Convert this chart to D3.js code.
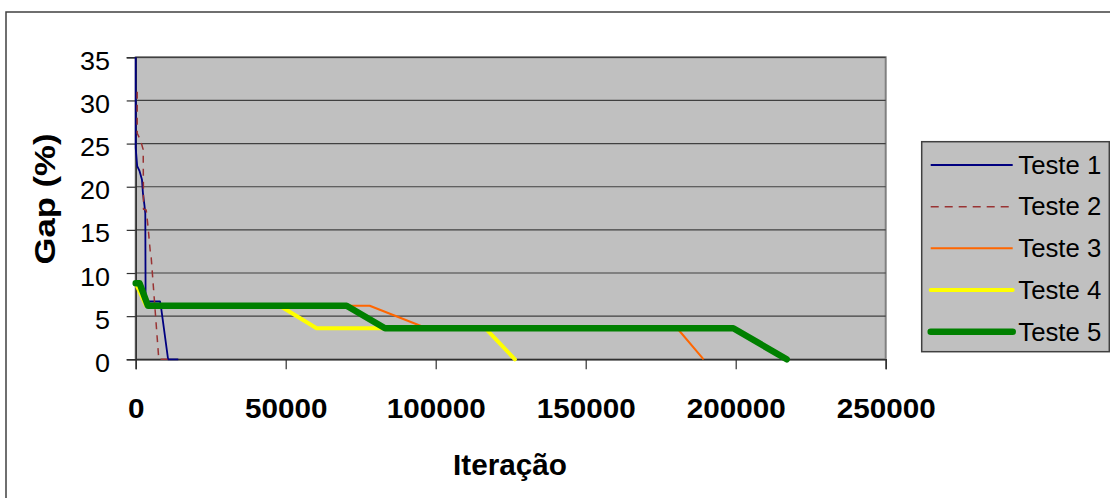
<!DOCTYPE html>
<html>
<head>
<meta charset="utf-8">
<script src="https://cdn.jsdelivr.net/npm/d3@7"></script>
<style>
  html, body { margin: 0; padding: 0; background: #fff; }
  svg { display: block; font-family: Arial, "Liberation Sans", sans-serif; }
</style>
</head>
<body>
<svg id="chart" width="1110" height="498"></svg>
<script>
// Series names (legend order)
const seriesNames = ["Teste 1", "Teste 2", "Teste 3", "Teste 4", "Teste 5"];

// Iteration / gap (%) pairs for each test run
const iter1 = [0, 0, 500, 1300, 2100, 2400, 2900, 3200, 3300, 8100, 8500, 10800, 14200];
const gap1  = [35, 24.5, 22.4, 21.8, 20.8, 19.3, 17.9, 16.9, 6.7, 6.7, 5.9, 0, 0];

const iter2 = [500, 500, 1600, 2500, 2600, 3500, 4100, 4900, 5100, 7700, 10800];
const gap2  = [31, 26.2, 25.4, 24.3, 17.4, 17.3, 15.4, 12.3, 12.1, 0, 0];

const iter3 = [0, 1300, 4100, 78000, 97000, 180500, 189300];
const gap3  = [8.8, 8.8, 6.2, 6.2, 3.6, 3.6, 0];

const iter4 = [0, 3500, 48000, 60300, 116500, 126400];
const gap4  = [8.8, 6.2, 6.2, 3.6, 3.6, 0];

const iter5 = [0, 1300, 4100, 70300, 83100, 199200, 217000];
const gap5  = [8.8, 8.8, 6.2, 6.2, 3.6, 3.6, 0];

// Axis ticks
const xTicks = [0, 50000, 100000, 150000, 200000, 250000];
const yTicks = [0, 5, 10, 15, 20, 25, 30, 35];

const iters = [iter1, iter2, iter3, iter4, iter5];
const gaps  = [gap1, gap2, gap3, gap4, gap5];

// Line styles per series
const styles = [
  { color: "#000080", width: 1.8, dash: null },
  { color: "#993333", width: 1.5, dash: "7,6" },
  { color: "#FF6600", width: 2,   dash: null },
  { color: "#FFFF00", width: 4,   dash: null },
  { color: "#008000", width: 6.5, dash: null }
];

const svg = d3.select("#chart");

// Plot frame
const plot = { left: 135.7, right: 885.7, top: 57.3, bottom: 359.3 };

const x = d3.scaleLinear().domain([0, 250000]).range([plot.left, plot.right]);
const y = d3.scaleLinear().domain([0, 35]).range([plot.bottom, plot.top]);

// Chart area outline
svg.append("rect")
  .attr("x", 6).attr("y", 12)
  .attr("width", 1200).attr("height", 600)
  .attr("fill", "#fff")
  .attr("stroke", "#404040").attr("stroke-width", 1.5);

// Plot background
svg.append("rect")
  .attr("x", plot.left).attr("y", plot.top)
  .attr("width", plot.right - plot.left)
  .attr("height", plot.bottom - plot.top)
  .attr("fill", "#c0c0c0")
  .attr("stroke", "#808080").attr("stroke-width", 2);

// Horizontal gridlines
svg.append("g")
  .selectAll("line")
  .data(yTicks.filter(d => d > 0))
  .join("line")
  .attr("x1", plot.left).attr("x2", plot.right)
  .attr("y1", d => y(d)).attr("y2", d => y(d))
  .attr("stroke", "#404040").attr("stroke-width", 1.2);

// Y axis
const yAxis = svg.append("g")
  .attr("transform", `translate(${plot.left},0)`)
  .call(d3.axisLeft(y).tickValues(yTicks).tickSize(9).tickPadding(0).tickFormat(d3.format("d")));
yAxis.select(".domain").attr("stroke", "#303030").attr("stroke-width", 1.5);
yAxis.selectAll(".tick line").attr("stroke", "#303030").attr("stroke-width", 1.2);
yAxis.selectAll(".tick text")
  .attr("x", 110 - plot.left)
  .attr("dy", null)
  .attr("y", 12)
  .attr("fill", "#000")
  .attr("font-size", 25)
  .attr("font-family", "Arial, 'Liberation Sans', sans-serif")
  .attr("text-anchor", "end")
  .attr("textLength", d => String(d).length * 15)
  .attr("lengthAdjust", "spacingAndGlyphs");

// X axis
const xAxis = svg.append("g")
  .attr("transform", `translate(0,${plot.bottom})`)
  .call(d3.axisBottom(x).tickValues(xTicks).tickSize(10).tickPadding(0).tickFormat(d3.format("d")));
xAxis.select(".domain").attr("stroke", "#303030").attr("stroke-width", 1.5);
xAxis.selectAll(".tick line").attr("stroke", "#303030").attr("stroke-width", 1.2);
xAxis.selectAll(".tick text")
  .attr("dy", null)
  .attr("y", 418.5 - plot.bottom)
  .attr("fill", "#000")
  .attr("font-size", 28)
  .attr("font-weight", "bold")
  .attr("font-family", "Arial, 'Liberation Sans', sans-serif")
  .attr("textLength", d => String(d).length * 16.5)
  .attr("lengthAdjust", "spacingAndGlyphs");

// Axis titles
svg.append("text")
  .attr("x", 510).attr("y", 475)
  .attr("text-anchor", "middle")
  .attr("font-size", 29).attr("font-weight", "bold")
  .attr("textLength", 114).attr("lengthAdjust", "spacingAndGlyphs")
  .text("Iteração");

svg.append("text")
  .attr("transform", "translate(55,199) rotate(-90)")
  .attr("text-anchor", "middle")
  .attr("font-size", 30).attr("font-weight", "bold")
  .attr("textLength", 131).attr("lengthAdjust", "spacingAndGlyphs")
  .text("Gap (%)");

// Series lines
const line = d3.line().x(d => x(d[0])).y(d => y(d[1]));
const lineData = iters.map((it, i) => it.map((v, j) => [v, gaps[i][j]]));

svg.append("g")
  .selectAll("path")
  .data(lineData)
  .join("path")
  .attr("d", line)
  .attr("fill", "none")
  .attr("stroke", (d, i) => styles[i].color)
  .attr("stroke-width", (d, i) => styles[i].width)
  .attr("stroke-dasharray", (d, i) => styles[i].dash)
  .attr("stroke-linejoin", "round")
  .attr("stroke-linecap", (d, i) => styles[i].width > 3 ? "round" : "butt");

// Legend
const legend = { left: 921.7, top: 141.7, right: 1109.3, bottom: 351.7 };
svg.append("rect")
  .attr("x", legend.left).attr("y", legend.top)
  .attr("width", legend.right - legend.left)
  .attr("height", legend.bottom - legend.top)
  .attr("fill", "#c0c0c0")
  .attr("stroke", "#404040").attr("stroke-width", 1.5);

const rowY = d3.scalePoint().domain(seriesNames).range([165, 331.7]);
const items = svg.append("g")
  .selectAll("g")
  .data(seriesNames)
  .join("g")
  .attr("transform", d => `translate(0,${rowY(d)})`);

items.append("line")
  .attr("x1", 930.7).attr("x2", 1012.7)
  .attr("y1", 0).attr("y2", 0)
  .attr("stroke", (d, i) => styles[i].color)
  .attr("stroke-width", (d, i) => styles[i].width)
  .attr("stroke-dasharray", (d, i) => styles[i].dash ? "8,6" : null)
  .attr("stroke-linecap", (d, i) => styles[i].width > 3 ? "round" : "butt");

items.append("text")
  .attr("x", 1018.3).attr("y", 8.8)
  .attr("font-size", 25)
  .attr("textLength", 83).attr("lengthAdjust", "spacingAndGlyphs")
  .text(d => d);
</script>
</body>
</html>
